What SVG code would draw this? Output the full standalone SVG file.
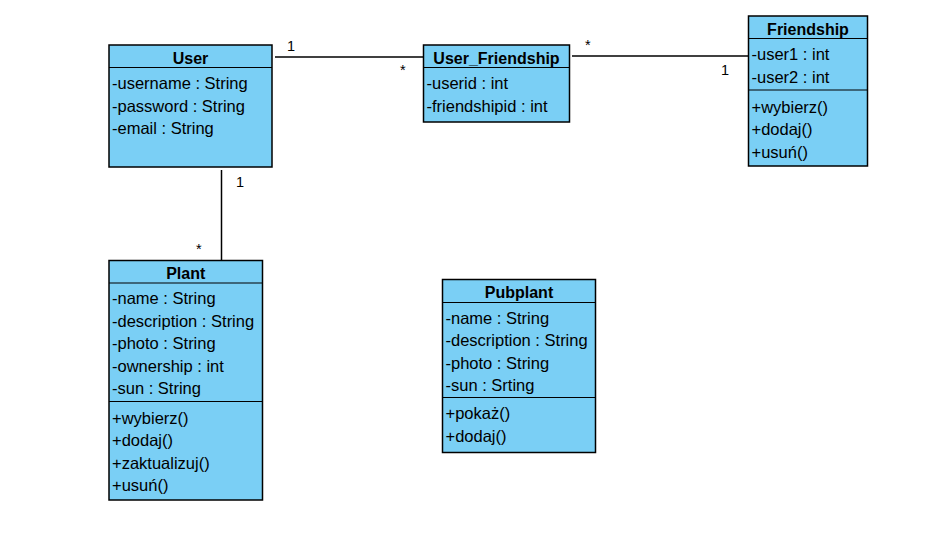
<svg xmlns="http://www.w3.org/2000/svg" width="938" height="535" viewBox="0 0 938 535">
<style>
.box{fill:#7acff5;stroke:#000;stroke-width:1.5}
.sep{stroke:#000;stroke-width:1.2}
.t{font-family:"Liberation Sans",Arial,sans-serif;font-size:16.5px;fill:#000}
.h{font-family:"Liberation Sans",Arial,sans-serif;font-size:16px;font-weight:bold;fill:#000;text-anchor:middle}
.m{font-family:"Liberation Sans",Arial,sans-serif;font-size:14.5px;fill:#000}
.c{stroke:#000;stroke-width:1.5;fill:none}
</style>
<rect width="938" height="535" fill="#fff"/>
<g id="connectors">
<line class="c" x1="275" y1="57" x2="423" y2="57"/>
<line class="c" x1="572" y1="56" x2="748" y2="56"/>
<line class="c" x1="221.5" y1="170" x2="221.5" y2="260"/>
<text class="m" x="287" y="51">1</text>
<text class="m" x="400" y="75">*</text>
<text class="m" x="585" y="50">*</text>
<text class="m" x="721" y="75">1</text>
<text class="m" x="236" y="187">1</text>
<text class="m" x="196" y="254">*</text>
</g>
<g id="User">
<rect class="box" x="109" y="45" width="163" height="122"/>
<line class="sep" x1="109" y1="67.5" x2="272" y2="67.5"/>
<text class="h" x="190.5" y="63.5">User</text>
<text class="t" x="112" y="89">-username : String</text>
<text class="t" x="112" y="111.5">-password : String</text>
<text class="t" x="112" y="134">-email : String</text>
</g>
<g id="User_Friendship">
<rect class="box" x="423.5" y="45" width="146" height="77"/>
<line class="sep" x1="423.5" y1="67.5" x2="569.5" y2="67.5"/>
<text class="h" x="496.5" y="63.5">User_Friendship</text>
<text class="t" x="426.5" y="89">-userid : int</text>
<text class="t" x="426.5" y="111.5">-friendshipid : int</text>
</g>
<g id="Friendship">
<rect class="box" x="748.5" y="16" width="119" height="150"/>
<line class="sep" x1="748.5" y1="38.5" x2="867.5" y2="38.5"/>
<line class="sep" x1="748.5" y1="90" x2="867.5" y2="90"/>
<text class="h" x="808" y="34.5">Friendship</text>
<text class="t" x="751.5" y="60">-user1 : int</text>
<text class="t" x="751.5" y="82.5">-user2 : int</text>
<text class="t" x="751.5" y="112.5">+wybierz()</text>
<text class="t" x="751.5" y="135">+dodaj()</text>
<text class="t" x="751.5" y="157.5">+usuń()</text>
</g>
<g id="Plant">
<rect class="box" x="109" y="260.5" width="153.5" height="239.5"/>
<line class="sep" x1="109" y1="283" x2="262.5" y2="283"/>
<line class="sep" x1="109" y1="401.5" x2="262.5" y2="401.5"/>
<text class="h" x="185.75" y="279">Plant</text>
<text class="t" x="112" y="304">-name : String</text>
<text class="t" x="112" y="326.5">-description : String</text>
<text class="t" x="112" y="349">-photo : String</text>
<text class="t" x="112" y="371.5">-ownership : int</text>
<text class="t" x="112" y="394">-sun : String</text>
<text class="t" x="112" y="423.5">+wybierz()</text>
<text class="t" x="112" y="446">+dodaj()</text>
<text class="t" x="112" y="468.5">+zaktualizuj()</text>
<text class="t" x="112" y="491">+usuń()</text>
</g>
<g id="Pubplant">
<rect class="box" x="442.5" y="279.5" width="153" height="173"/>
<line class="sep" x1="442.5" y1="302.5" x2="595.5" y2="302.5"/>
<line class="sep" x1="442.5" y1="397.5" x2="595.5" y2="397.5"/>
<text class="h" x="519" y="298">Pubplant</text>
<text class="t" x="445.5" y="323.5">-name : String</text>
<text class="t" x="445.5" y="346">-description : String</text>
<text class="t" x="445.5" y="368.5">-photo : String</text>
<text class="t" x="445.5" y="391">-sun : Srting</text>
<text class="t" x="445.5" y="419">+pokaż()</text>
<text class="t" x="445.5" y="441.5">+dodaj()</text>
</g>
</svg>
